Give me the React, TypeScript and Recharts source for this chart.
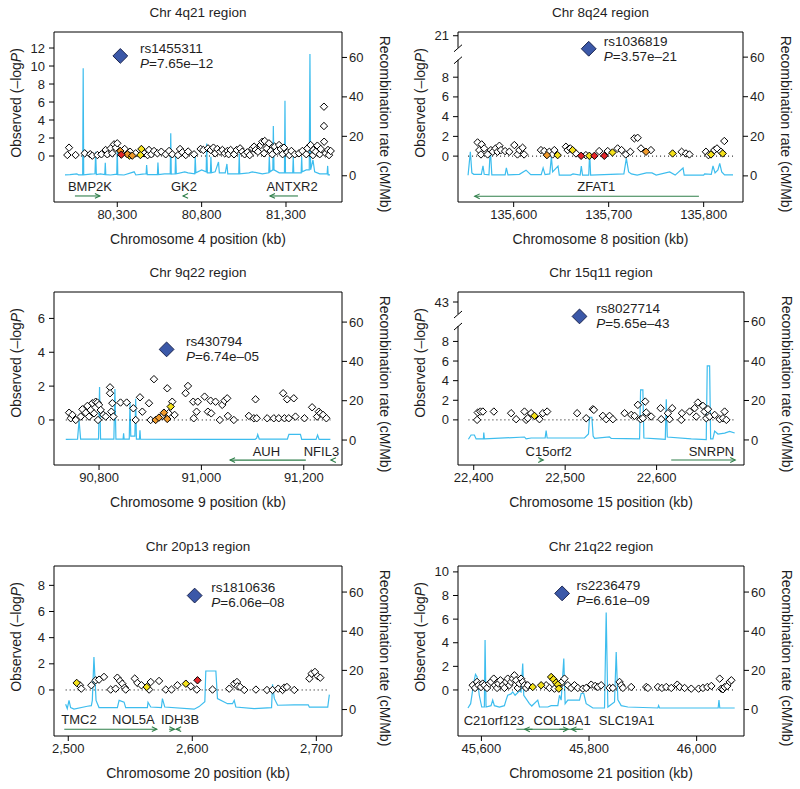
import React from 'react';
import { ComposedChart, Scatter, Line, XAxis, YAxis, ReferenceLine } from 'recharts';

type Snp = [number, number, number]; // [position kb, -log10 P, LD class 0 white,1 yellow,2 orange,3 red]
type Pt = [number, number]; // [position kb, recombination rate cM/Mb]
type Arrow = [number, number, boolean]; // [from kb, to kb, has head]

const FONT = '"Liberation Sans", Arial, Helvetica, sans-serif';
const INK = '#1e1e1e';
const RECOMB = '#3dbdee';
const GENE = '#2f7f4a';
const LD_FILL = ['#ffffff', '#f4e11b', '#f09a2c', '#e4262b'];
const LEAD_FILL = '#3b58a8';

const recombTicks = [0, 20, 40, 60];

// ---------------- Chr 4q21 ----------------
const chr4Snps: Snp[] = [
  [80004, 0.11, 0], [80014, 0.93, 0], [80053, 0.11, 0], [80107, 0.3, 0], [80140, 0.2, 0], [80152, 0.04, 0],
  [80182, 0.11, 0], [80206, 0.19, 0], [80231, 0.67, 0], [80241, 0.19, 0], [80261, 0.85, 0], [80270, 0.3, 0],
  [80281, 1.3, 0], [80291, 0.93, 0], [80300, 1.41, 0], [80318, 0.56, 2], [80324, 0.15, 3], [80344, 0.78, 0],
  [80360, 0.19, 2], [80372, 0.05, 1], [80376, 0.48, 0], [80389, 0.04, 2], [80409, 0.3, 0], [80437, 0.11, 1],
  [80443, 0.78, 1], [80459, 0.3, 0], [80480, 0.1, 0], [80488, 0.67, 0], [80502, 0.19, 0], [80518, 0.56, 0],
  [80538, 0.3, 0], [80561, 0.48, 0], [80587, 0.19, 0], [80607, 0.56, 0], [80626, 0.19, 0], [80660, 0.1, 0],
  [80672, 0.78, 0], [80686, 0.41, 0], [80706, 0.11, 0], [80720, 0.5, 0], [80755, 0.19, 0], [80794, 0.78, 0],
  [80810, 0.67, 0], [80838, 0.85, 0], [80854, 0.67, 0], [80870, 0.93, 0], [80880, 0.3, 0], [80893, 0.78, 0],
  [80909, 0.48, 0], [80923, 0.67, 0], [80937, 0.3, 0], [80953, 0.56, 0], [80960, 0.2, 0], [80972, 0.67, 0],
  [80992, 0.19, 0], [81008, 0.67, 0], [81028, 0.85, 0], [81041, 0.48, 0], [81055, 0.19, 0], [81071, 0.41, 0],
  [81085, 0.1, 0], [81101, 0.85, 0], [81111, 1.04, 0], [81120, 0.67, 0], [81134, 0.48, 0], [81150, 1.22, 0],
  [81160, 1.59, 0], [81170, 0.3, 0], [81174, 1.67, 0], [81186, 0.85, 0], [81199, 1.41, 0], [81209, 0.56, 0],
  [81219, 0.19, 0], [81233, 1.04, 0], [81245, 0.56, 0], [81259, 1.22, 0], [81269, 0.78, 0], [81280, 0.2, 0],
  [81288, 0.93, 0], [81308, 0.41, 0], [81320, 0.1, 0], [81332, 0.56, 0], [81352, 0.19, 0], [81377, 0.3, 0],
  [81397, 0.56, 0], [81420, 0.2, 0], [81427, 0.85, 0], [81446, 1.22, 0], [81460, 0.1, 0], [81462, 0.67, 0],
  [81476, 0.48, 0], [81486, 1.15, 0], [81500, 0.2, 0], [81506, 0.78, 0], [81525, 3.33, 0], [81525, 5.48, 0],
  [81526, 1.59, 0], [81535, 0.3, 0], [81549, 0.67, 0], [81555, 0.1, 0], [81565, 0.56, 0],
];
const chr4Recomb: Pt[] = [
  [79990, 0.5], [80020, 0.6], [80060, 1.0], [80070, 0.5], [80095, 0.5], [80098, 54.5], [80101, 0.5], [80140, 0.8],
  [80168, 1], [80172, 12.2], [80176, 0.6], [80200, 1], [80226, 0.6], [80229, 6.6], [80232, 0.6], [80260, 0.4],
  [80297, 0.8], [80300, 14.7], [80303, 0.6], [80340, 0.4], [80400, 2], [80410, 0.4], [80450, 0.8], [80471, 1],
  [80474, 5.4], [80478, 0.6], [80538, 0.6], [80541, 6.7], [80545, 0.6], [80580, 1], [80614, 1], [80617, 21.5],
  [80620, 0.8], [80643, 1], [80646, 11.3], [80650, 1], [80700, 2], [80720, 1.5], [80759, 1], [80762, 9.6],
  [80766, 1.5], [80800, 3], [80827, 2], [80830, 16.4], [80834, 1.5], [80852, 1.5], [80855, 9.6], [80859, 1.5],
  [80880, 2], [80900, 7], [80905, 1.5], [80940, 1.5], [80950, 6], [80955, 1], [80990, 1], [81020, 1],
  [81023, 11.3], [81026, 1], [81080, 1.5], [81100, 2], [81160, 1], [81198, 1.5], [81201, 9.6], [81205, 2],
  [81222, 3], [81225, 25.2], [81229, 3], [81260, 1.5], [81291, 1.5], [81294, 38], [81297, 1.5], [81320, 1.5],
  [81340, 1.5], [81343, 9.6], [81346, 1.5], [81390, 1.5], [81393, 9.6], [81396, 2], [81420, 3], [81438, 3],
  [81442, 61.7], [81446, 3], [81460, 8], [81470, 2], [81500, 1], [81544, 1], [81547, 5], [81550, 0.5], [81561, 0.5],
];
const chr4Lead = { pos: 80318, logP: 11.12, rs: 'rs1455311', p: '7.65e–12' };
const chr4Genes: [string, number][] = [['BMP2K', 80138], ['GK2', 80695], ['ANTXR2', 81336]];
const chr4Arrows: Arrow[] = [[80049, 80197, true], [80699, 80690, true], [81371, 81205, true]];
const chr4XTicks = [80300, 80800, 81300];
const chr4YTicks = [0, 2, 4, 6, 8, 10, 12];

// ---------------- Chr 8q24 ----------------
const chr8Snps: Snp[] = [
  [135562, 1.39, 0], [135563.8, 0.61, 0], [135565.6, 0.17, 0], [135566.3, 1.19, 0], [135569, 0.78, 0],
  [135572.6, 0.17, 0], [135576, 0.61, 0], [135578, 0.44, 0], [135581, 0.78, 0], [135583, 0.44, 0],
  [135585, 1.05, 0], [135586.6, 0.61, 0], [135591, 0.51, 0], [135595.4, 0.44, 0], [135600.7, 1.12, 0],
  [135604, 0.17, 0], [135606, 0.61, 0], [135609.4, 0.85, 0], [135611, 0.17, 0], [135628.7, 0.61, 0],
  [135632.2, 0.51, 0], [135635, 0.1, 2], [135637.5, 0.44, 0], [135641, 0.17, 0], [135642.8, 0.61, 0],
  [135646.3, 0.1, 1], [135655, 0.95, 0], [135656.8, 0.61, 0], [135659.6, 0.78, 0], [135662, 0.61, 1],
  [135665.6, 0.27, 0], [135671, 0.03, 3], [135676, 0.1, 0], [135679.6, 0.03, 1], [135685, 0.03, 3],
  [135690, 0.51, 0], [135695.4, 0.03, 3], [135699, 0.51, 0], [135704, 0.37, 1], [135709.4, 0.78, 0],
  [135713.6, 0.61, 0], [135718, 0.17, 0], [135722.8, 0.44, 0], [135727, 1.8, 0], [135730.5, 1.86, 0],
  [135734, 0.78, 0], [135739.3, 0.44, 2], [135744.5, 0.61, 0], [135767.3, 0.27, 1], [135776.8, 0.44, 0],
  [135781.4, 0.27, 0], [135785, 0.17, 0], [135802.4, 0.44, 0], [135805, 0.1, 0], [135807.7, 0.17, 1],
  [135811.2, 0.61, 0], [135814, 0.78, 0], [135818.2, 0.44, 0], [135820, 0.27, 1], [135821.7, 1.53, 0],
];
const chr8Recomb: Pt[] = [
  [135552, 0.3], [135554.4, 12.2], [135556, 1.5], [135558, 0.8], [135566, 0.8], [135567.7, 5.1], [135569, 0.8],
  [135574, 0.5], [135575.4, 13.9], [135577, 0.5], [135591, 0.5], [135592.3, 4], [135594, 0.5], [135606, 0.8],
  [135613, 2.9], [135618, 0.6], [135629, 0.6], [135631, 4], [135633, 0.6], [135638, 1], [135639.7, 9.6],
  [135641, 2], [135646.7, 5], [135648, 0.4], [135660, 0.4], [135662.5, 1], [135670, 0.4], [135671.2, 5],
  [135672.5, 0.4], [135679, 0.4], [135680, 11.9], [135681, 0.4], [135716, 1], [135718.6, 8.8], [135721, 2],
  [135723.9, 1], [135730, 0.4], [135739.7, 1.5], [135745.6, 1.5], [135750, 0.4], [135764.2, 2], [135770, 0.4],
  [135778.3, 4], [135779.5, 0.4], [135800, 0.4], [135801, 1], [135808, 0.8], [135809.8, 5], [135812, 1.5],
  [135815, 3], [135816.9, 6.3], [135819, 2], [135822, 0.5], [135830.9, 0.5],
];
const chr8Lead = { pos: 135679, logP: 10.88, rs: 'rs1036819', p: '3.57e–21' };
const chr8Genes: [string, number][] = [['ZFAT1', 135687]];
const chr8Arrows: Arrow[] = [[135795, 135559, true]];
const chr8XTicks = [135600, 135700, 135800];
const chr8YTicks = [0, 2, 4, 6, 8, 12.2];
const chr8YTickLabels = ['0', '2', '4', '6', '8', '21'];

// ---------------- Chr 9q22 ----------------
const chr9Snps: Snp[] = [
  [90741.5, 0.43, 0], [90744.7, 0.1, 0], [90748, 0.3, 0], [90754.5, 0, 0], [90764.2, 0.2, 0], [90767.5, 0.63, 0],
  [90774, 0.43, 0], [90777.2, 0.83, 0], [90780.5, 0.2, 0], [90783.7, 0.59, 0], [90787, 0.99, 0], [90790.3, 0.39, 0],
  [90793.5, 1.08, 0], [90796.8, 1.03, 0], [90798, 0, 0], [90800, 0.89, 0], [90803.3, 0.59, 0], [90808.5, 0.3, 0],
  [90813, 0.2, 0], [90821.5, 1.93, 0], [90821.5, 1.58, 0], [90824, 0.49, 0], [90826, 0.99, 0], [90828, 0.2, 0],
  [90842, 1.03, 0], [90854, 1.03, 0], [90867, 0.69, 0], [90871.6, 0, 0], [90880, 1.34, 0], [90884.6, 0.49, 0],
  [90897.6, 0.99, 0], [90900.8, 0, 0], [90907.3, 2.41, 0], [90910.6, 0, 2], [90917, 0.14, 2], [90923.6, 0.24, 0],
  [90926.8, 0.43, 2], [90933.3, 1.87, 0], [90933.3, 0.06, 2], [90936, 0.4, 0], [90940, 0.79, 1], [90943, 1.08, 0],
  [90947.6, 0.3, 0], [90969.1, 1.58, 0], [90973.7, 2.01, 0], [90984, 1.08, 0], [90985, 0.1, 0], [90990.6, 0.49, 0],
  [90993, 1.08, 0], [91006.2, 1.38, 0], [91012.7, 0.49, 0], [91018, 1.14, 0], [91019.2, 0.39, 0], [91027.6, 1.08, 0],
  [91036, 0, 0], [91040.7, 0.89, 0], [91045.2, 1.14, 0], [91050.4, 1.28, 0], [91051.7, 0.24, 0], [91063.4, 0, 0],
  [91092.7, 0.24, 0], [91102.5, 0.1, 0], [91105.7, 1.22, 0], [91108, 0.1, 0], [91128.5, 0.1, 0], [91141.5, 0.1, 0],
  [91151.2, 0.1, 0], [91159.7, 1.58, 0], [91162.3, 0.1, 0], [91167.5, 1.22, 0], [91170.7, 0.1, 0], [91180.5, 1.28, 0],
  [91183.8, 0.2, 0], [91201.3, 0.1, 0], [91216.3, 0.75, 0], [91226, 0.2, 0], [91229.3, 0.49, 0], [91232.5, 0.39, 0],
  [91237.7, 0.3, 0], [91244.2, 0.1, 0],
];
const chr9Recomb: Pt[] = [
  [90735, 0.3], [90758, 0.5], [90761, 10], [90764, 0.5], [90799, 0.5], [90801, 27], [90803, 0.5], [90829, 0.5],
  [90831, 26], [90833, 0.5], [90847, 0.5], [90848, 3.4], [90849, 0.5], [90859, 0.5], [90860.5, 19], [90862, 2],
  [90870, 2], [90871.6, 21], [90873, 0.5], [90879, 0.5], [90880, 5], [90881, 0.5], [91000, 0.3], [91105, 0.3],
  [91108, 1], [91110, 2.8], [91113, 0.5], [91168, 0.5], [91171, 2.9], [91193.5, 2.9], [91196, 0.3], [91224, 0.3],
  [91227, 2.5], [91230, 0.3], [91252, 0.3],
];
const chr9Lead = { pos: 90932, logP: 4.17, rs: 'rs430794', p: '6.74e–05' };
const chr9Genes: [string, number][] = [['AUH', 91127], ['NFIL3', 91234.5]];
const chr9Arrows: Arrow[] = [[91204, 91056, true], [91257, 91253, true]];
const chr9XTicks = [90800, 91000, 91200];
const chr9YTicks = [0, 2, 4, 6];

// ---------------- Chr 15q11 ----------------
const chr15Snps: Snp[] = [
  [22403.7, 0, 0], [22404.4, 0.75, 0], [22407.3, 0.85, 0], [22410, 0.85, 0], [22422, 0.85, 0], [22440.9, 0.68, 0],
  [22446.4, 0.07, 0], [22455.5, 0.85, 0], [22457.3, 0, 0], [22459.1, 0.17, 0], [22462.8, 0.68, 0], [22466.4, 0.41, 1],
  [22471.9, 0.07, 0], [22475.6, 0.68, 0], [22480.3, 0.85, 0], [22513.1, 0.68, 0], [22523, 0.17, 0], [22530.3, 1.09, 0],
  [22531.4, 1.02, 0], [22541.2, 0.41, 0], [22544.9, 0.07, 0], [22548.5, 0.41, 0], [22552.2, 0.07, 0], [22565, 0.68, 0],
  [22572.3, 0.51, 0], [22575.9, 0.41, 0], [22579.5, 1.53, 0], [22582.5, 0.07, 0], [22585, 0.17, 0], [22587.6, 1.87, 0],
  [22588.7, 0.75, 0], [22594.1, 0.34, 0], [22604.4, 1.19, 0], [22605.1, 0.07, 0], [22612.4, 0.68, 0], [22614.2, 0.07, 0],
  [22617.1, 1.19, 0], [22627, 0, 0], [22627.7, 0.68, 0], [22636.1, 0.85, 0], [22641.6, 1.19, 0], [22643.4, 0.34, 0],
  [22645.2, 1.77, 0], [22650.7, 1.43, 0], [22652.5, 0.85, 0], [22654.3, 0.17, 0], [22656.2, 1.09, 0], [22658, 0.34, 0],
  [22663.5, 0.51, 0], [22669, 0.07, 0], [22672.6, 0.17, 0], [22674.4, 0.85, 0], [22676.3, 0, 0],
];
const chr15Recomb: Pt[] = [
  [22394.2, 0.35], [22397.1, 2.5], [22400.7, 2.5], [22402.6, 0.5], [22410.6, 0.5], [22411, 3.7], [22411.7, 0.5],
  [22455.5, 1.5], [22457.3, 0.5], [22462.8, 1], [22478.1, 1], [22479.2, 4.7], [22480.3, 1], [22521.2, 1],
  [22525.5, 3], [22526.6, 11.5], [22529.2, 11.5], [22530.6, 2], [22532.1, 0.8], [22548.5, 1.5], [22550.4, 0.8],
  [22581.4, 0.5], [22582.5, 25.4], [22585, 25.4], [22586.1, 1], [22601.4, 0.5], [22609.5, 0.3], [22610.6, 20.6],
  [22611.7, 1.5], [22637.9, 0.5], [22654.3, 0.2], [22655.4, 37.5], [22658, 37.5], [22659.1, 0.5], [22661.6, 0.5],
  [22663.5, 4.5], [22667.1, 3], [22674.4, 3.5], [22679.9, 4.3], [22685.4, 3.5],
];
const chr15Lead = { pos: 22515.7, logP: 10.55, rs: 'rs8027714', p: '5.65e–43' };
const chr15Genes: [string, number][] = [['C15orf2', 22482], ['SNRPN', 22660]];
const chr15Arrows: Arrow[] = [[22472, 22476, true], [22616, 22686, true]];
const chr15XTicks = [22400, 22500, 22600];
const chr15YTicks = [0, 2, 4, 6, 8, 12.02];
const chr15YTickLabels = ['0', '2', '4', '6', '8', '43'];

// ---------------- Chr 20p13 ----------------
const chr20Snps: Snp[] = [
  [2506.8, 0.54, 1], [2509.4, 0.36, 0], [2510.5, 0.1, 0], [2518.6, 0.36, 0], [2522.1, 0.74, 0], [2524.8, 0.79, 0],
  [2528.8, 1.0, 0], [2534.2, 0.03, 0], [2538.2, 0.1, 0], [2539.6, 0.94, 0], [2541.7, 0.69, 0], [2543.6, 0.48, 0],
  [2545.5, 0.18, 0], [2546.3, 0.03, 0], [2553.6, 0.87, 0], [2555.7, 0.54, 0], [2559, 0.36, 0], [2563.3, 0.23, 1],
  [2565.2, 0.03, 0], [2566.5, 0.61, 0], [2573.2, 0.69, 0], [2578.6, 0.03, 0], [2583.2, 0.03, 0], [2588, 0.36, 0],
  [2594.8, 0.48, 1], [2598.8, 0.28, 0], [2603.6, 0.03, 0], [2604.2, 0.74, 3], [2616.3, 0.03, 0], [2629.8, 0.1, 0],
  [2633.8, 0.48, 0], [2636, 0.61, 0], [2636.5, 0.28, 0], [2638.6, 0.23, 0], [2641.9, 0, 0], [2651.3, 0.03, 0],
  [2660.2, 0, 0], [2664.7, 0, 0], [2669.3, 0.1, 0], [2672.8, 0, 0], [2674.2, 0.18, 0], [2676.3, 0.23, 0],
  [2682.2, 0, 0], [2694.4, 0.87, 0], [2696.2, 1.25, 0], [2698.9, 1.38, 0], [2701.1, 1.05, 0], [2703.2, 0.94, 0],
];
const chr20Recomb: Pt[] = [
  [2497.9, 2.7], [2499.2, 0.5], [2500.6, 4.7], [2501.9, 1.0], [2504.6, 0.2], [2515.4, 1.7], [2518.6, 2],
  [2519.4, 4.7], [2520.7, 26.8], [2522.4, 4.7], [2524.8, 1], [2539.6, 1], [2541, 4.7], [2545, 3.8], [2546.3, 1],
  [2563.8, 1], [2564.3, 3.7], [2566.5, 1.3], [2575.1, 1], [2575.9, 5.6], [2577.8, 1.3], [2601.5, 0.2],
  [2605.5, 1.5], [2610.1, 4], [2610.9, 19.7], [2619, 19.7], [2620.3, 5.6], [2628.4, 3.0], [2632.4, 3],
  [2633.8, 4.7], [2635.1, 1.3], [2649.9, 0.5], [2663.9, 1], [2664.7, 12.9], [2666.1, 5.7], [2668.8, 2.2],
  [2682.2, 2.4], [2693.5, 2.4], [2694.4, 1.2], [2709.2, 1.2], [2710.5, 7.6],
];
const chr20Lead = { pos: 2601.9, logP: 7.22, rs: 'rs1810636', p: '6.06e–08' };
const chr20Genes: [string, number][] = [['TMC2', 2508.6], ['NOL5A', 2552.5], ['IDH3B', 2590.2]];
const chr20Arrows: Arrow[] = [[2496.8, 2571.4, true], [2581.3, 2585.6, true], [2590.2, 2587, true]];
const chr20XTicks = [2500, 2600, 2700];
const chr20YTicks = [0, 2, 4, 6, 8];

// ---------------- Chr 21q22 ----------------
const chr21Snps: Snp[] = [
  [45583.8, 0.4, 0], [45588.2, 0.17, 0], [45591.9, 0.68, 0], [45594.4, 0.4, 0], [45599.3, 0.25, 0], [45602.4, 0.54, 0],
  [45605.5, 0.4, 0], [45610.5, 0.17, 0], [45614.8, 0.54, 0], [45617.9, 0.68, 0], [45622.9, 0.96, 0], [45625.4, 0.4, 0],
  [45629.1, 0.17, 0], [45631.6, 0.54, 0], [45635.3, 0.82, 0], [45639.6, 0.4, 0], [45642.7, 0.17, 0], [45645.8, 0.68, 0],
  [45648.9, 0.96, 0], [45652, 0.4, 0], [45655.1, 0.68, 0], [45658.2, 0.96, 0], [45661.3, 1.24, 0], [45664.4, 0.82, 0],
  [45667.5, 0.17, 0], [45670.6, 0.54, 0], [45673.7, 0.96, 0], [45676.8, 0.68, 0], [45679.9, 0.4, 0], [45683, 0.17, 0],
  [45686.1, 0.4, 0], [45695.4, 0.25, 1], [45711, 0.4, 1], [45720.3, 0.4, 0], [45726.5, 0.17, 0], [45729.6, 1.1, 1],
  [45733.9, 0.9, 1], [45735.8, 0.11, 0], [45738.9, 0.62, 1], [45742, 0.45, 1], [45743.8, 0.11, 1], [45745.1, 0.4, 0],
  [45749.4, 0.68, 0], [45754.4, 0.96, 0], [45760.6, 0.4, 0], [45766.8, 0.17, 0], [45773, 0.4, 0], [45779.2, 0.17, 0],
  [45788.5, 0.11, 0], [45794.7, 0.17, 0], [45804, 0.45, 0], [45811.4, 0.34, 0], [45816.4, 0.25, 0], [45822.6, 0.4, 0],
  [45838.1, 0.17, 0], [45844.3, 0.17, 0], [45856.7, 0.68, 0], [45859.8, 0.4, 0], [45862.9, 0.17, 0], [45878.4, 0.25, 0],
  [45906.3, 0.25, 0], [45909.4, 0.17, 0], [45928, 0.25, 0], [45935.5, 0.17, 0], [45943.5, 0.25, 0], [45952.8, 0.17, 0],
  [45964, 0.45, 0], [45968.3, 0.25, 0], [45977.6, 0.17, 0], [45990, 0.11, 0], [46003.7, 0.11, 0], [46011.7, 0.17, 0],
  [46019.8, 0.25, 0], [46027.3, 0.34, 0], [46042.8, 0.96, 0], [46045.9, 0.11, 0], [46049, 0.06, 0], [46052.1, 0.25, 0],
  [46057, 0.34, 0], [46061.4, 0.68, 0], [46064.5, 0.82, 0],
];
const chr21Recomb: Pt[] = [
  [45575, 0.8], [45580, 3], [45586, 14], [45589, 18], [45592, 16.6], [45596, 7.3], [45600.6, 1.3], [45605.5, 1.3],
  [45606.8, 35.5], [45608.6, 1.3], [45617.9, 2], [45621, 4.8], [45624.1, 2], [45633.4, 1.3], [45642.7, 2],
  [45645.8, 4.8], [45648.9, 7.3], [45655.1, 8], [45658.2, 9], [45662.6, 7.3], [45670.6, 9.5], [45673.7, 9],
  [45676.8, 23.5], [45678.7, 7.3], [45689.2, 3], [45693.6, 1.8], [45704.7, 4.8], [45707.9, 1.3], [45723.4, 1.3],
  [45729.6, 2], [45742, 2], [45745.1, 7.3], [45748.2, 4.8], [45753.1, 26], [45755.6, 3], [45760.6, 4.8],
  [45769.9, 4.8], [45782.3, 4.8], [45785.4, 8.2], [45790.3, 8.2], [45794.7, 3], [45800.9, 2], [45807.1, 0.8],
  [45828.8, 0.8], [45831.9, 49.5], [45835, 1.3], [45847.4, 3.9], [45850.5, 29.4], [45853.6, 5], [45859.8, 2],
  [45872.2, 1.3], [45928, 0.8], [45929.3, 2], [45931, 0.8], [46040, 0.8], [46041.5, 4.8], [46043, 0.8], [46070.7, 0.8],
];
const chr21Lead = { pos: 45750, logP: 8.18, rs: 'rs2236479', p: '6.61e–09' };
const chr21Genes: [string, number][] = [['C21orf123', 45623.4], ['COL18A1', 45750], ['SLC19A1', 45869.8]];
const chr21Arrows: Arrow[] = [[45665, 45789, false], [45695, 45680.6, true], [45745, 45761, true], [45783, 45767.4, true]];
const chr21XTicks = [45600, 45800, 46000];
const chr21YTicks = [0, 2, 4, 6, 8, 10];

// ---------------- panel assembly (layout kept separate from data) ----------------
const panels = [
  {
    title: 'Chr 4q21 region', xLabel: 'Chromosome 4 position (kb)',
    snps: chr4Snps, recomb: chr4Recomb, lead: chr4Lead, genes: chr4Genes, arrows: chr4Arrows,
    xTicks: chr4XTicks, yTicks: chr4YTicks, yTickLabels: null as string[] | null, breakTick: null as number | null,
    layout: { ox: 0, oy: 0, L: 54, T: 32, R: 342, B: 202, xDomain: [79925, 81632], yDomain: [-5.11, 13.78], rDomain: [-13.3, 72.9], geneLabelY: -3.33, geneArrowY: -4.44, leadDx: 19.7 },
  },
  {
    title: 'Chr 8q24 region', xLabel: 'Chromosome 8 position (kb)',
    snps: chr8Snps, recomb: chr8Recomb, lead: chr8Lead, genes: chr8Genes, arrows: chr8Arrows,
    xTicks: chr8XTicks, yTicks: chr8YTicks, yTickLabels: chr8YTickLabels, breakTick: 12.2,
    layout: { ox: 400, oy: 0, L: 458, T: 32, R: 743, B: 202, xDomain: [135541.4, 135841.4], yDomain: [-4.65, 12.58], rDomain: [-13.2, 72.7], geneLabelY: -3.05, geneArrowY: -4.07, leadDx: 15 },
  },
  {
    title: 'Chr 9q22 region', xLabel: 'Chromosome 9 position (kb)',
    snps: chr9Snps, recomb: chr9Recomb, lead: chr9Lead, genes: chr9Genes, arrows: chr9Arrows,
    xTicks: chr9XTicks, yTicks: chr9YTicks, yTickLabels: null, breakTick: null,
    layout: { ox: 0, oy: 260, L: 54, T: 292, R: 342, B: 465, xDomain: [90712, 91274.7], yDomain: [-2.66, 7.56], rDomain: [-12.7, 75.3], geneLabelY: -1.88, geneArrowY: -2.37, leadDx: 19.3 },
  },
  {
    title: 'Chr 15q11 region', xLabel: 'Chromosome 15 position (kb)',
    snps: chr15Snps, recomb: chr15Recomb, lead: chr15Lead, genes: chr15Genes, arrows: chr15Arrows,
    xTicks: chr15XTicks, yTicks: chr15YTicks, yTickLabels: chr15YTickLabels, breakTick: 12.02,
    layout: { ox: 400, oy: 260, L: 458, T: 292, R: 744, B: 465, xDomain: [22382.8, 22695.6], yDomain: [-4.6, 13.04], rDomain: [-12.7, 75], geneLabelY: -3.24, geneArrowY: -4.09, leadDx: 16.7 },
  },
  {
    title: 'Chr 20p13 region', xLabel: 'Chromosome 20 position (kb)',
    snps: chr20Snps, recomb: chr20Recomb, lead: chr20Lead, genes: chr20Genes, arrows: chr20Arrows,
    xTicks: chr20XTicks, yTicks: chr20YTicks, yTickLabels: null, breakTick: null,
    layout: { ox: 0, oy: 525, L: 54, T: 566, R: 342, B: 736, xDomain: [2488.5, 2720.7], yDomain: [-3.52, 9.48], rDomain: [-13.5, 73.3], geneLabelY: -2.26, geneArrowY: -3.0, leadDx: 16.7 },
  },
  {
    title: 'Chr 21q22 region', xLabel: 'Chromosome 21 position (kb)',
    snps: chr21Snps, recomb: chr21Recomb, lead: chr21Lead, genes: chr21Genes, arrows: chr21Arrows,
    xTicks: chr21XTicks, yTicks: chr21YTicks, yTickLabels: null, breakTick: null,
    layout: { ox: 400, oy: 525, L: 458, T: 566, R: 744, B: 736, xDomain: [45556.5, 46088], yDomain: [-3.9, 10.5], rDomain: [-13.5, 73.3], geneLabelY: -2.57, geneArrowY: -3.33, leadDx: 14.3 },
  },
];

const fmtKb = (v: number) => v.toLocaleString('en-US');

function Panel({ cfg }: { cfg: any }) {
  const g = cfg.layout;
  const lx = g.L - g.ox;
  const rx = g.R - g.ox;
  const ty = g.T - g.oy;
  const by = g.B - g.oy;
  const chartH = by + 50;

  const toPts = (arr: Snp[]) => arr.map(([x, y, ld]) => ({ x, y, ld }));
  const white = toPts(cfg.snps.filter((s: Snp) => s[2] === 0));
  const colored = toPts(cfg.snps.filter((s: Snp) => s[2] > 0).slice().sort((a: Snp, b: Snp) => a[2] - b[2]));
  const recomb = cfg.recomb.map(([x, r]: Pt) => ({ x, r }));
  const leadPts = [{ x: cfg.lead.pos, y: cfg.lead.logP }];
  const geneLabelPts = cfg.genes.map(([name, x]: [string, number]) => ({ x, y: g.geneLabelY, name }));
  const headPts = cfg.arrows
    .filter((a: Arrow) => a[2])
    .map(([from, to]: Arrow) => ({ x: to, y: g.geneArrowY, dir: to > from ? 1 : -1 }));
  const zeroFrom = cfg.recomb[0][0];
  const zeroTo = cfg.recomb[cfg.recomb.length - 1][0];

  const diamond = (p: any) => {
    const { cx, cy, payload } = p;
    if (cx == null || cy == null) return <g />;
    const s = 3.7;
    return (
      <polygon
        points={`${cx},${cy - s} ${cx + s},${cy} ${cx},${cy + s} ${cx - s},${cy}`}
        fill={LD_FILL[payload.ld]}
        stroke="#000"
        strokeWidth={1}
      />
    );
  };

  const leadShape = (p: any) => {
    const { cx, cy } = p;
    if (cx == null || cy == null) return <g />;
    const s = 7.4;
    const tx = cx + g.leadDx;
    return (
      <g>
        <polygon
          points={`${cx},${cy - s} ${cx + s},${cy} ${cx},${cy + s} ${cx - s},${cy}`}
          fill={LEAD_FILL}
          stroke="#1b2550"
          strokeWidth={1}
        />
        <text x={tx} y={cy - 7.8} dy="0.35em" fontSize={13.5} fill={INK} fontFamily={FONT}>{cfg.lead.rs}</text>
        <text x={tx} y={cy + 7.2} dy="0.35em" fontSize={13.5} fill={INK} fontFamily={FONT}>
          <tspan fontStyle="italic">P</tspan>={cfg.lead.p}
        </text>
      </g>
    );
  };

  const geneText = (p: any) => {
    const { cx, cy, payload } = p;
    if (cx == null || cy == null) return <g />;
    return (
      <text x={cx} y={cy} dy="0.35em" textAnchor="middle" fontSize={13} fill={INK} fontFamily={FONT}>
        {payload.name}
      </text>
    );
  };

  const arrowHead = (p: any) => {
    const { cx, cy, payload } = p;
    if (cx == null || cy == null) return <g />;
    const d = payload.dir;
    return (
      <polyline
        points={`${cx - d * 5},${cy - 2.4} ${cx},${cy} ${cx - d * 5},${cy + 2.4}`}
        fill="none"
        stroke={GENE}
        strokeWidth={1.1}
      />
    );
  };

  const leftTick = (p: any) => {
    const { x, y, payload } = p;
    const idx = cfg.yTicks.indexOf(payload.value);
    const label = cfg.yTickLabels ? cfg.yTickLabels[idx] : String(payload.value);
    const isBreak = cfg.breakTick != null && payload.value === cfg.breakTick;
    const ax = lx;
    return (
      <g>
        <text x={x} y={y} dy="0.35em" textAnchor="end" fontSize={13} fill={INK} fontFamily={FONT}>{label}</text>
        {isBreak && (
          <g>
            <rect x={ax - 2} y={y + 12} width={4} height={12} fill="#fff" />
            <line x1={ax - 4} y1={y + 16} x2={ax + 4} y2={y + 9} stroke="#000" strokeWidth={1} />
            <line x1={ax - 4} y1={y + 28} x2={ax + 4} y2={y + 21} stroke="#000" strokeWidth={1} />
          </g>
        )}
      </g>
    );
  };

  const XLabel = () => (
    <text x={(lx + rx) / 2} y={by + 37} dy="0.35em" textAnchor="middle" fontSize={14} fill={INK} fontFamily={FONT}>
      {cfg.xLabel}
    </text>
  );
  const LeftLabel = () => (
    <text
      transform={`translate(${lx - 38},${ty + 71}) rotate(-90)`}
      dy="0.35em"
      textAnchor="middle"
      fontSize={14}
      fill={INK}
      fontFamily={FONT}
    >
      Observed (–log<tspan fontStyle="italic">P</tspan>)
    </text>
  );
  const RightLabel = () => (
    <text
      transform={`translate(${rx + 43},${ty + 92}) rotate(90)`}
      dy="0.35em"
      textAnchor="middle"
      fontSize={14}
      fill={INK}
      fontFamily={FONT}
    >
      Recombination rate (cM/Mb)
    </text>
  );

  return (
    <div style={{ position: 'absolute', left: g.ox, top: g.oy, width: 400, height: chartH }}>
      <div
        style={{
          position: 'absolute', left: lx, width: rx - lx, top: ty - 27, height: 16, lineHeight: '16px',
          textAlign: 'center', fontSize: 13.5, color: INK, fontFamily: FONT,
        }}
      >
        {cfg.title}
      </div>
      <ComposedChart width={400} height={chartH} margin={{ top: ty, right: 0, bottom: 0, left: 0 }}>
        <XAxis
          xAxisId="b"
          dataKey="x"
          type="number"
          domain={g.xDomain}
          allowDataOverflow
          ticks={cfg.xTicks}
          interval={0}
          tickFormatter={fmtKb}
          height={50}
          tickSize={5}
          tickMargin={3}
          stroke="#000"
          tick={{ fill: INK, fontSize: 13, fontFamily: FONT }}
          label={{ content: XLabel }}
        />
        <YAxis
          yAxisId="l"
          type="number"
          domain={g.yDomain}
          allowDataOverflow
          ticks={cfg.yTicks}
          interval={0}
          width={lx}
          tickSize={5}
          tickMargin={4}
          stroke="#000"
          tick={leftTick}
          label={{ content: LeftLabel }}
        />
        <YAxis
          yAxisId="r"
          orientation="right"
          type="number"
          domain={g.rDomain}
          allowDataOverflow
          ticks={recombTicks}
          interval={0}
          width={400 - rx}
          tickSize={5}
          tickMargin={2}
          stroke="#000"
          tick={{ fill: INK, fontSize: 13, fontFamily: FONT }}
          label={{ content: RightLabel }}
        />
        <ReferenceLine xAxisId="b" yAxisId="l" y={g.yDomain[1]} stroke="#000" strokeWidth={1} ifOverflow="visible" />
        <Line
          xAxisId="b"
          yAxisId="r"
          data={recomb}
          dataKey="r"
          type="linear"
          stroke={RECOMB}
          strokeWidth={1.2}
          dot={false}
          activeDot={false}
          isAnimationActive={false}
        />
        <ReferenceLine
          xAxisId="b"
          yAxisId="l"
          segment={[{ x: zeroFrom, y: 0 }, { x: zeroTo, y: 0 }]}
          stroke="#000"
          strokeWidth={1}
          strokeDasharray="1 3"
        />
        {cfg.arrows.map((a: Arrow, i: number) => (
          <ReferenceLine
            key={`ar${i}`}
            xAxisId="b"
            yAxisId="l"
            segment={[{ x: a[0], y: g.geneArrowY }, { x: a[1], y: g.geneArrowY }]}
            stroke={GENE}
            strokeWidth={1.1}
          />
        ))}
        <Scatter xAxisId="b" yAxisId="l" data={headPts} dataKey="y" shape={arrowHead} isAnimationActive={false} />
        <Scatter xAxisId="b" yAxisId="l" data={geneLabelPts} dataKey="y" shape={geneText} isAnimationActive={false} />
        <Scatter xAxisId="b" yAxisId="l" data={white} dataKey="y" shape={diamond} isAnimationActive={false} />
        <Scatter xAxisId="b" yAxisId="l" data={colored} dataKey="y" shape={diamond} isAnimationActive={false} />
        <Scatter xAxisId="b" yAxisId="l" data={leadPts} dataKey="y" shape={leadShape} isAnimationActive={false} />
      </ComposedChart>
    </div>
  );
}

export default function App() {
  return (
    <div
      style={{
        position: 'absolute', left: 0, top: 0, width: 800, height: 789, overflow: 'hidden',
        background: '#fff', fontFamily: FONT,
      }}
    >
      {panels.map((cfg, i) => (
        <Panel key={i} cfg={cfg} />
      ))}
    </div>
  );
}
